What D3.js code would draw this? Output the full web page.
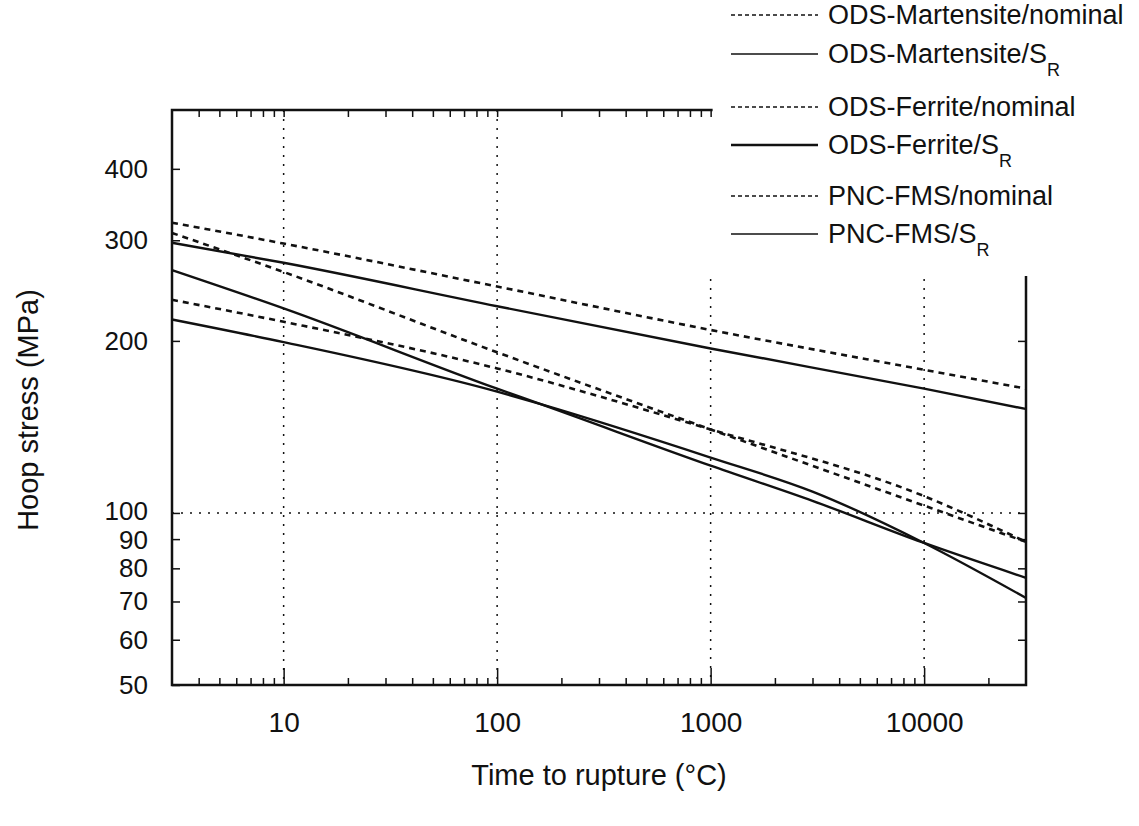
<!DOCTYPE html>
<html>
<head>
<meta charset="utf-8">
<script src="https://cdn.jsdelivr.net/npm/d3@7"></script>
<style>
  body { margin: 0; background: #fff; }
  text { font-family: "Liberation Sans", Arial, sans-serif; fill: #111; }
</style>
</head>
<body>
<svg id="chart"></svg>
<script>
var width = 1139,
    height = 826

// 时间 (x) 与各曲线的应力读数 (MPa)
var tMain = [3, 10, 100, 1000, 10000, 30000]
var odsFerriteNominal = [322, 296, 249, 209, 178, 165]
var odsFerriteSR = [297, 274, 230, 194, 165, 152]
var odsMartNominal = [236, 216, 179, 140, 107, 89]
var pncNominal = [309, 264, 191, 140, 103, 89]
var tSR = [3, 10, 100, 160, 1000, 3000, 10000, 30000]
var odsMartSR = [218, 199, 163, 155, 125, 109, 88.6, 71]
var pncSR = [266, 228, 165, 155, 121, 105, 88.6, 77]

var xTicks = [10, 100, 1000, 10000]
var xMinor = [4, 5, 6, 7, 8, 9, 20, 30, 40, 50, 60, 70, 80, 90, 200, 300, 400, 500, 600, 700, 800, 900,
    2000, 3000, 4000, 5000, 6000, 7000, 8000, 9000, 20000]
var yTicks = [50, 60, 70, 80, 90, 100, 200, 300, 400]

var legendNames = ["ODS-Martensite/nominal", "ODS-Martensite/S", "ODS-Ferrite/nominal", "ODS-Ferrite/S", "PNC-FMS/nominal", "PNC-FMS/S"]
var legendDashed = [true, false, true, false, true, false]

var series = [
    { t: tMain, v: odsMartNominal, dashed: true },
    { t: tSR, v: odsMartSR, dashed: false },
    { t: tMain, v: odsFerriteNominal, dashed: true },
    { t: tMain, v: odsFerriteSR, dashed: false },
    { t: tMain, v: pncNominal, dashed: true },
    { t: tSR, v: pncSR, dashed: false }
]

var svg = d3.select("#chart").attr("width", width).attr("height", height)

var x = d3.scaleLog().domain([3, 30000]).range([172, 1026])
var y = d3.scaleLog().domain([50, 507]).range([685, 110])

var xLeft = x.range()[0], xRight = x.range()[1]
var yBottom = y.range()[0], yTop = y.range()[1]
var cutY = 276 // 图例下方 右轴起点
var topEnd = x(1000) + 2 // 上边框终点

// 网格 (点线)
var grid = svg.append("g").attr("stroke", "#111").attr("stroke-width", 1.5).attr("stroke-dasharray", "2,7")
grid.selectAll("line.v")
    .data(xTicks)
    .enter().append("line")
    .attr("x1", function (d) { return x(d) })
    .attr("x2", function (d) { return x(d) })
    .attr("y1", function (d) { return d > 100 ? cutY + 3 : yTop })
    .attr("y2", yBottom)
grid.append("line")
    .attr("x1", xLeft).attr("x2", xRight)
    .attr("y1", y(100)).attr("y2", y(100))

// 左轴
svg.append("g")
    .attr("transform", "translate(" + xLeft + ",0)")
    .call(d3.axisLeft(y).tickValues(yTicks).tickFormat(d3.format("d")).tickSize(-8).tickSizeOuter(0).tickPadding(24))
    .call(function (g) { g.select(".domain").remove() })
    .selectAll("text")
    .attr("font-size", 26)
    .style("font-family", "Liberation Sans")
    .attr("dy", function (d) { return d == 100 ? "0.26em" : d == 90 ? "0.36em" : "0.32em" })

// 右轴刻度
svg.append("g")
    .attr("transform", "translate(" + xRight + ",0)")
    .call(d3.axisRight(y).tickValues([60, 70, 80, 90, 100, 200]).tickFormat("").tickSize(-8).tickSizeOuter(0))
    .call(function (g) { g.select(".domain").remove() })

// 下轴
svg.append("g")
    .attr("transform", "translate(0," + yBottom + ")")
    .call(d3.axisBottom(x).tickValues(xTicks).tickFormat(d3.format("d")).tickSize(-17).tickSizeOuter(0).tickPadding(27))
    .call(function (g) { g.select(".domain").remove() })
    .selectAll("text").attr("font-size", 28).style("font-family", "Liberation Sans")
svg.append("g")
    .attr("transform", "translate(0," + yBottom + ")")
    .call(d3.axisBottom(x).tickValues(xMinor).tickFormat("").tickSize(-7).tickSizeOuter(0))
    .call(function (g) { g.select(".domain").remove() })

// 上轴刻度 (只到 1000)
svg.append("g")
    .attr("transform", "translate(0," + yTop + ")")
    .call(d3.axisTop(x).tickValues(xTicks.concat(xMinor).filter(function (d) { return d <= 1000 })).tickFormat("").tickSize(-7).tickSizeOuter(0))
    .call(function (g) { g.select(".domain").remove() })

svg.selectAll(".tick line").attr("stroke", "#111").attr("stroke-width", 1.5)

// 边框
svg.append("path")
    .attr("d", "M" + topEnd + "," + yTop + "H" + xLeft + "V" + yBottom + "H" + xRight + "V" + cutY)
    .attr("fill", "none")
    .attr("stroke", "#111")
    .attr("stroke-width", 2.5)

// 曲线
var line = d3.line()
    .x(function (d) { return x(d[0]) })
    .y(function (d) { return y(d[1]) })
    .curve(d3.curveMonotoneX)

svg.append("g").selectAll("path")
    .data(series)
    .enter().append("path")
    .attr("d", function (s) {
        return line(s.t.map(function (t, i) { return [t, s.v[i]] }))
    })
    .attr("fill", "none")
    .attr("stroke", "#111")
    .attr("stroke-width", function (s) { return s.dashed ? 2.6 : 2.4 })
    .attr("stroke-dasharray", function (s) { return s.dashed ? "6,5" : null })

// 图例
var legendY = [15, 54, 107, 145, 196, 234]
var legend = svg.append("g").selectAll("g")
    .data(legendNames)
    .enter().append("g")
    .attr("transform", function (d, i) { return "translate(0," + legendY[i] + ")" })
legend.append("line")
    .attr("x1", 731).attr("x2", 818)
    .attr("y1", 0).attr("y2", 0)
    .attr("stroke", "#111")
    .attr("stroke-width", function (d, i) { return i == 3 ? 2.4 : 1.6 })
    .attr("stroke-dasharray", function (d, i) { return legendDashed[i] ? "4,3" : null })
var lt = legend.append("text")
    .attr("x", 828)
    .attr("y", 9)
    .attr("font-size", 27)
    .text(function (d) { return d })
lt.filter(function (d, i) { return !legendDashed[i] })
    .append("tspan")
    .attr("font-size", 18)
    .attr("dy", 13)
    .text("R")

// 坐标轴标题
svg.append("text")
    .attr("x", (xLeft + xRight) / 2)
    .attr("y", 785)
    .attr("text-anchor", "middle")
    .attr("font-size", 29)
    .text("Time to rupture (°C)")
svg.append("text")
    .attr("transform", "translate(38," + 410 + ") rotate(-90)")
    .attr("text-anchor", "middle")
    .attr("font-size", 29)
    .text("Hoop stress (MPa)")
</script>
</body>
</html>
